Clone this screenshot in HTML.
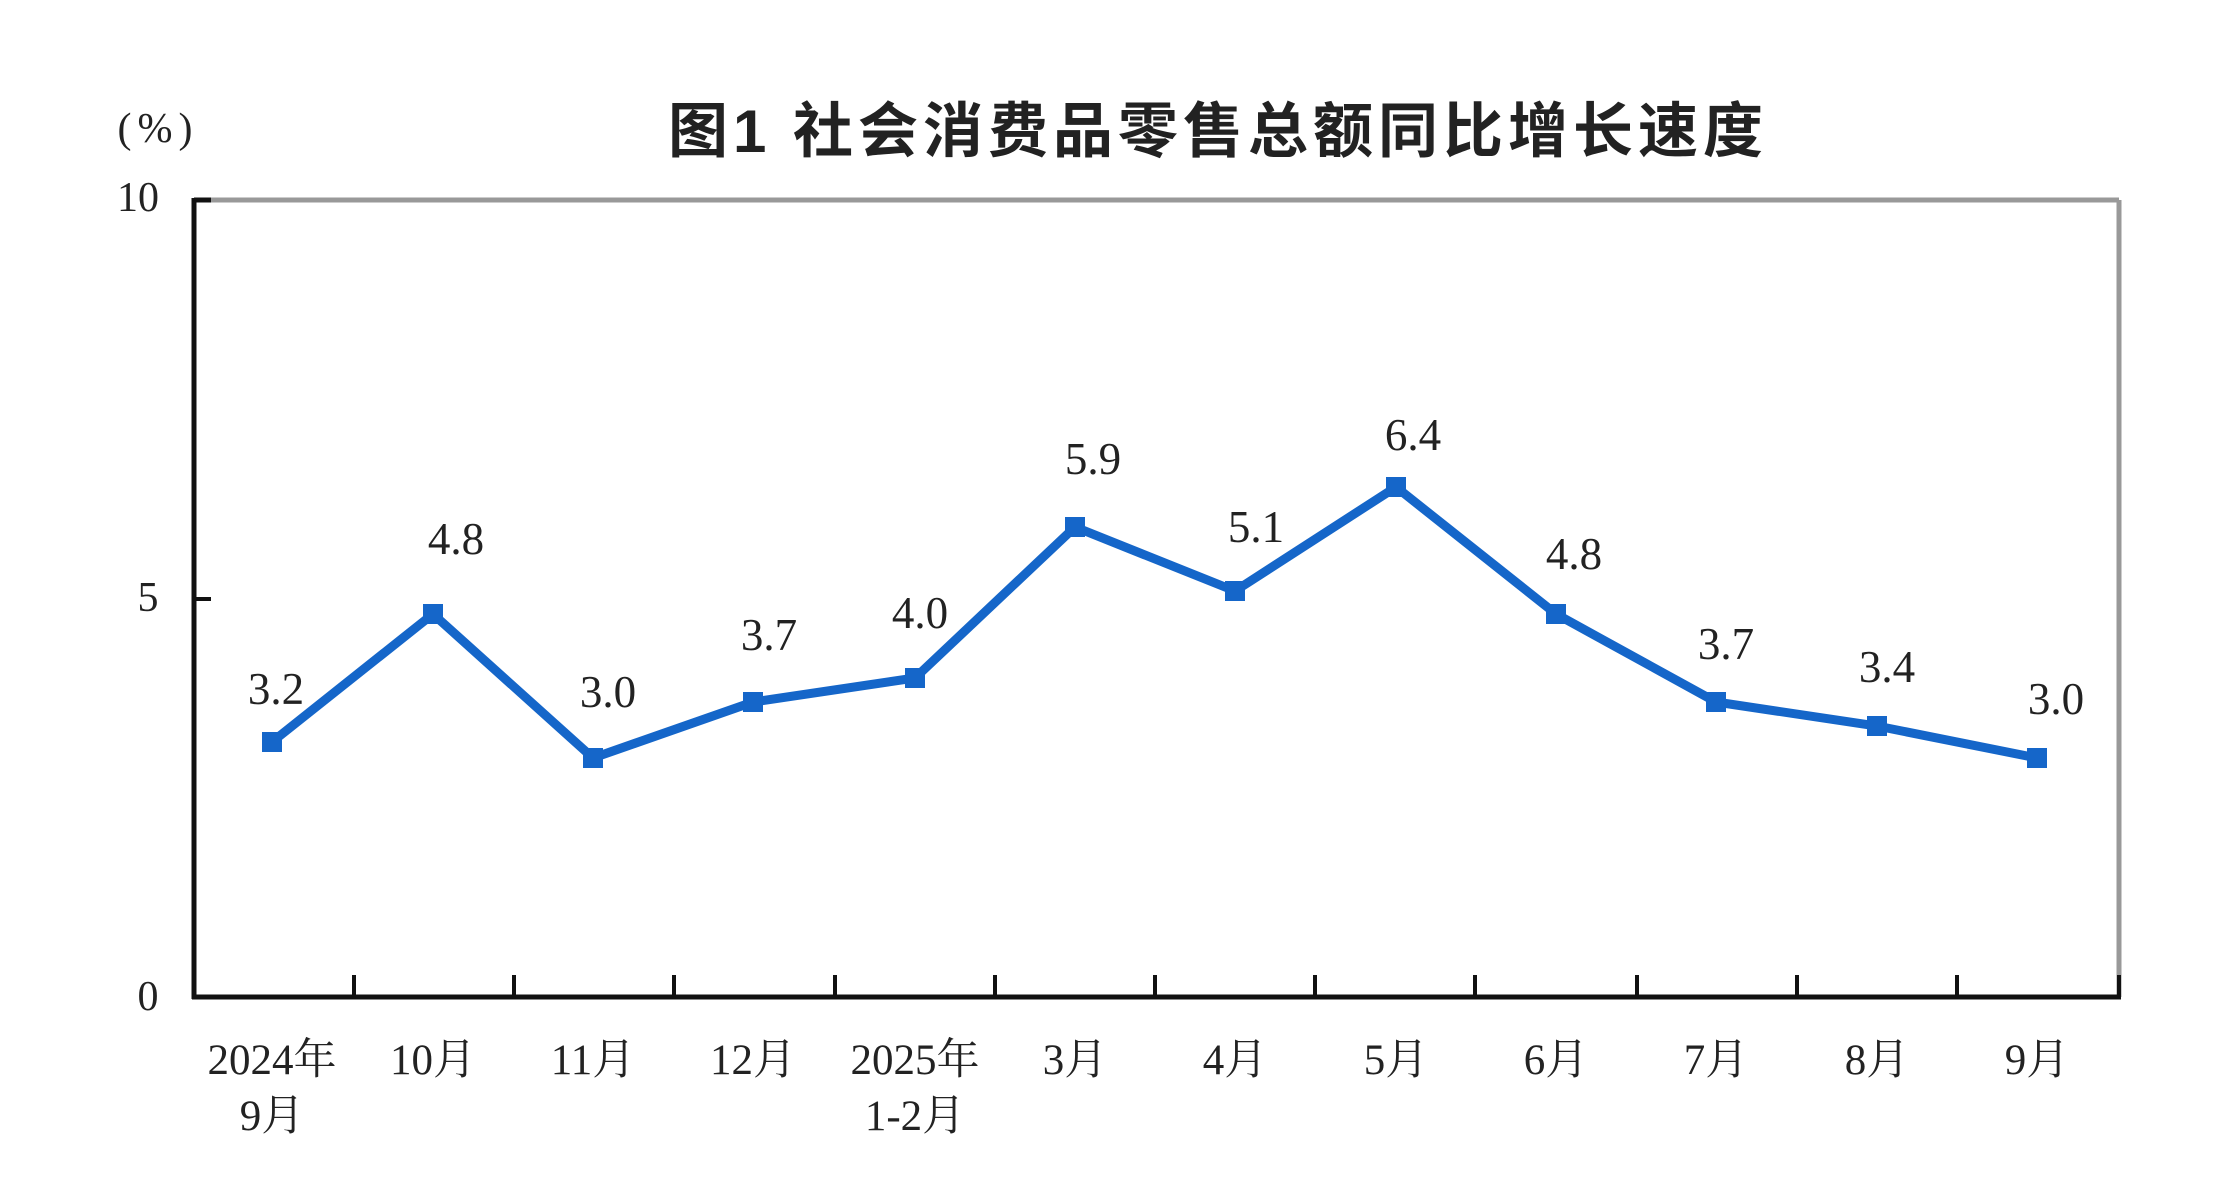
<!DOCTYPE html>
<html><head><meta charset="utf-8"><style>
html,body{margin:0;padding:0;background:#fff;}
svg{display:block}
.s{font-family:"Liberation Serif","Noto Serif CJK SC",serif;fill:#222;}
</style></head><body>
<svg width="2218" height="1186" viewBox="0 0 2218 1186" xmlns="http://www.w3.org/2000/svg">
<text x="1218" y="152" text-anchor="middle" font-family="'Liberation Sans','Noto Sans CJK SC',sans-serif" font-weight="bold" font-size="60" letter-spacing="5" fill="#222">图1 社会消费品零售总额同比增长速度</text>
<text class="s" x="158" y="142" text-anchor="middle" font-size="42" letter-spacing="6">(%)</text>
<text class="s" x="138" y="211" text-anchor="middle" font-size="42">10</text>
<text class="s" x="148" y="611" text-anchor="middle" font-size="42">5</text>
<text class="s" x="148" y="1010" text-anchor="middle" font-size="42">0</text>
<line x1="194" y1="200" x2="2119" y2="200" stroke="#999" stroke-width="5"/>
<line x1="2119" y1="200" x2="2119" y2="997" stroke="#999" stroke-width="5"/>
<line x1="194" y1="198" x2="194" y2="999" stroke="#111" stroke-width="5"/>
<line x1="192" y1="997" x2="2121" y2="997" stroke="#111" stroke-width="5"/>
<line x1="194" y1="200" x2="211" y2="200" stroke="#111" stroke-width="5"/>
<line x1="194" y1="599" x2="211" y2="599" stroke="#111" stroke-width="4"/>
<g stroke="#111" stroke-width="4">
<line x1="354" y1="975" x2="354" y2="997"/><line x1="514" y1="975" x2="514" y2="997"/><line x1="674" y1="975" x2="674" y2="997"/><line x1="835" y1="975" x2="835" y2="997"/><line x1="995" y1="975" x2="995" y2="997"/><line x1="1155" y1="975" x2="1155" y2="997"/><line x1="1315" y1="975" x2="1315" y2="997"/><line x1="1475" y1="975" x2="1475" y2="997"/><line x1="1637" y1="975" x2="1637" y2="997"/><line x1="1797" y1="975" x2="1797" y2="997"/><line x1="1957" y1="975" x2="1957" y2="997"/><line x1="2119" y1="975" x2="2119" y2="997"/>
</g>
<polyline fill="none" stroke="#1566c9" stroke-width="9" stroke-linejoin="miter" points="272,742 433,614 593,758 753,702 915,678 1075,527 1235,591 1396,487 1556,614 1716,702 1877,726 2037,758"/>
<g fill="#1566c9">
<rect x="262" y="732" width="20" height="20"/><rect x="423" y="604" width="20" height="20"/><rect x="583" y="748" width="20" height="20"/><rect x="743" y="692" width="20" height="20"/><rect x="905" y="668" width="20" height="20"/><rect x="1065" y="517" width="20" height="20"/><rect x="1225" y="581" width="20" height="20"/><rect x="1386" y="477" width="20" height="20"/><rect x="1546" y="604" width="20" height="20"/><rect x="1706" y="692" width="20" height="20"/><rect x="1867" y="716" width="20" height="20"/><rect x="2027" y="748" width="20" height="20"/>
</g>
<g class="s" font-size="45" text-anchor="middle">
<text x="276" y="704">3.2</text><text x="456" y="554">4.8</text><text x="608" y="707">3.0</text><text x="769" y="650">3.7</text><text x="920" y="628">4.0</text><text x="1093" y="474">5.9</text><text x="1256" y="542">5.1</text><text x="1413" y="450">6.4</text><text x="1574" y="569">4.8</text><text x="1726" y="659">3.7</text><text x="1887" y="682">3.4</text><text x="2056" y="714">3.0</text>
</g>
<g class="s" font-size="43" text-anchor="middle">
<text x="272" y="1074">2024年</text><text x="272" y="1130">9月</text>
<text x="433" y="1074">10月</text><text x="593" y="1074">11月</text><text x="753" y="1074">12月</text>
<text x="915" y="1074">2025年</text><text x="915" y="1130">1-2月</text>
<text x="1075" y="1074">3月</text><text x="1235" y="1074">4月</text><text x="1396" y="1074">5月</text><text x="1556" y="1074">6月</text><text x="1716" y="1074">7月</text><text x="1877" y="1074">8月</text><text x="2037" y="1074">9月</text>
</g>
</svg>
</body></html>
